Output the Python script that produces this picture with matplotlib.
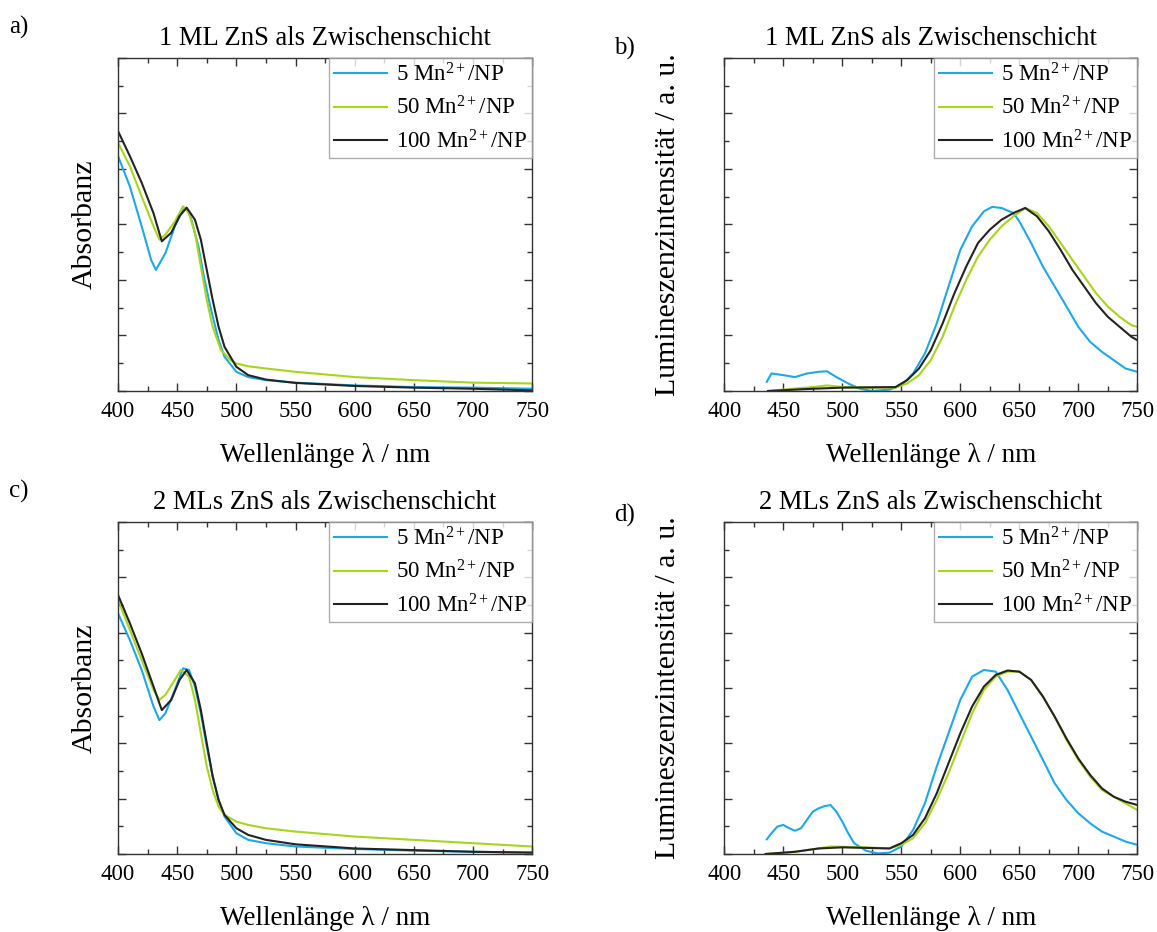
import matplotlib
matplotlib.use("Agg")
import matplotlib.pyplot as plt
from matplotlib.ticker import MultipleLocator, NullFormatter

plt.rcParams['font.family'] = ['Liberation Serif', 'DejaVu Serif']
plt.rcParams['mathtext.fontset'] = 'custom'
plt.rcParams['mathtext.rm'] = 'Liberation Serif'
plt.rcParams['mathtext.it'] = 'Liberation Serif:italic'

# colours / labels
BLUE = '#1ea8e6'
GREEN = '#a8d41e'
BLACK = '#232323'
labels = ['5 Mn$^{2+}$/NP', '50 Mn$^{2+}$/NP', '100 Mn$^{2+}$/NP']

# ---- a) absorbance, 1 ML ----
a_wl_5 = [400, 410, 420, 428, 432, 440, 448, 455, 458, 462, 468, 472, 478, 485, 490, 500, 510, 525, 550, 600, 650, 700, 750]
a_y_5 = [8.46, 7.37, 5.93, 4.72, 4.36, 4.96, 5.93, 6.53, 6.6, 6.17, 5.2, 4.24, 3.04, 1.83, 1.23, 0.69, 0.5, 0.39, 0.3, 0.2, 0.14, 0.12, 0.08]
a_wl_50 = [400, 410, 420, 430, 435, 440, 448, 455, 460, 465, 470, 475, 480, 487, 495, 500, 510, 525, 550, 600, 650, 700, 750]
a_y_50 = [8.94, 8.1, 7.0, 5.93, 5.45, 5.63, 6.1, 6.65, 6.4, 5.7, 4.48, 3.28, 2.31, 1.47, 1.11, 0.99, 0.89, 0.81, 0.69, 0.5, 0.39, 0.3, 0.27]
a_wl_100 = [400, 410, 420, 430, 437, 445, 452, 458, 465, 470, 475, 480, 485, 490, 500, 510, 525, 550, 600, 650, 700, 750]
a_y_100 = [9.36, 8.46, 7.5, 6.4, 5.39, 5.7, 6.3, 6.6, 6.17, 5.45, 4.36, 3.28, 2.31, 1.59, 0.87, 0.57, 0.41, 0.29, 0.18, 0.12, 0.08, 0.02]

# ---- b) luminescence, 1 ML ----
b_wl_5 = [436, 440, 450, 460, 470, 480, 487, 495, 505, 515, 525, 540, 550, 560, 570, 580, 590, 600, 610, 620, 627, 635, 645, 650, 660, 670, 680, 690, 700, 710, 720, 730, 740, 750]
b_y_5 = [0.33, 0.63, 0.57, 0.5, 0.63, 0.69, 0.71, 0.5, 0.27, 0.08, 0.0, 0.05, 0.2, 0.63, 1.35, 2.43, 3.76, 5.08, 5.93, 6.47, 6.63, 6.59, 6.41, 6.11, 5.33, 4.48, 3.76, 3.04, 2.31, 1.77, 1.41, 1.11, 0.81, 0.69]
b_wl_50 = [437, 450, 475, 487, 500, 525, 545, 555, 565, 575, 585, 595, 605, 615, 625, 635, 645, 655, 665, 675, 685, 695, 705, 715, 725, 735, 745, 750]
b_y_50 = [0.0, 0.05, 0.14, 0.2, 0.14, 0.12, 0.12, 0.27, 0.57, 1.11, 1.95, 3.04, 4.0, 4.84, 5.45, 5.93, 6.29, 6.59, 6.41, 5.93, 5.33, 4.72, 4.12, 3.52, 3.04, 2.67, 2.37, 2.31]
b_wl_100 = [437, 475, 500, 545, 555, 565, 575, 585, 595, 605, 615, 625, 635, 645, 655, 665, 675, 685, 695, 705, 715, 725, 735, 745, 750]
b_y_100 = [0.0, 0.08, 0.12, 0.14, 0.39, 0.81, 1.47, 2.43, 3.52, 4.48, 5.33, 5.81, 6.17, 6.41, 6.59, 6.29, 5.75, 5.08, 4.36, 3.76, 3.16, 2.67, 2.31, 1.95, 1.83]

# ---- c) absorbance, 2 MLs ----
c_wl_5 = [400, 410, 420, 430, 435, 440, 448, 455, 460, 465, 470, 475, 480, 485, 490, 500, 510, 525, 550, 600, 650, 700, 750]
c_y_5 = [8.7, 7.73, 6.65, 5.33, 4.84, 5.08, 5.93, 6.71, 6.65, 6.05, 5.08, 3.88, 2.8, 1.95, 1.35, 0.75, 0.51, 0.39, 0.27, 0.18, 0.12, 0.08, 0.05]
c_wl_50 = [400, 410, 420, 430, 435, 440, 448, 453, 460, 465, 470, 475, 480, 485, 490, 500, 510, 525, 550, 600, 650, 700, 750]
c_y_50 = [9.18, 8.1, 7.01, 5.93, 5.57, 5.75, 6.29, 6.65, 6.41, 5.57, 4.36, 3.16, 2.31, 1.71, 1.41, 1.17, 1.05, 0.93, 0.81, 0.63, 0.51, 0.39, 0.27]
c_wl_100 = [400, 410, 420, 430, 437, 445, 452, 458, 465, 470, 475, 480, 485, 490, 500, 510, 525, 550, 600, 650, 700, 750]
c_y_100 = [9.36, 8.34, 7.25, 6.05, 5.2, 5.57, 6.29, 6.65, 6.17, 5.2, 4.0, 2.8, 1.95, 1.41, 0.93, 0.69, 0.51, 0.35, 0.2, 0.14, 0.08, 0.05]

# ---- d) luminescence, 2 MLs ----
d_wl_5 = [436, 440, 445, 450, 455, 460, 465, 470, 475, 480, 485, 490, 495, 500, 505, 510, 520, 530, 540, 550, 560, 570, 580, 590, 600, 610, 620, 630, 640, 650, 660, 670, 680, 690, 700, 710, 720, 730, 740, 750]
d_y_5 = [0.53, 0.75, 0.99, 1.05, 0.93, 0.84, 0.93, 1.23, 1.53, 1.65, 1.73, 1.77, 1.53, 1.17, 0.75, 0.39, 0.12, 0.02, 0.05, 0.27, 0.87, 1.83, 3.16, 4.36, 5.57, 6.41, 6.65, 6.59, 5.93, 5.08, 4.24, 3.4, 2.55, 1.95, 1.47, 1.11, 0.81, 0.63, 0.45, 0.33]
d_wl_50 = [435, 460, 480, 490, 520, 540, 550, 560, 570, 580, 590, 600, 610, 620, 630, 640, 650, 660, 670, 680, 690, 700, 710, 720, 730, 740, 750]
d_y_50 = [0.0, 0.08, 0.2, 0.27, 0.24, 0.2, 0.33, 0.57, 1.11, 1.95, 2.92, 4.0, 5.08, 5.93, 6.41, 6.59, 6.59, 6.29, 5.69, 4.96, 4.12, 3.4, 2.8, 2.31, 2.07, 1.83, 1.59]
d_wl_100 = [435, 460, 480, 500, 540, 550, 560, 570, 580, 590, 600, 610, 620, 630, 640, 650, 660, 670, 680, 690, 700, 710, 720, 730, 740, 750]
d_y_100 = [0.0, 0.08, 0.2, 0.24, 0.2, 0.39, 0.69, 1.29, 2.19, 3.28, 4.36, 5.33, 6.05, 6.47, 6.63, 6.59, 6.29, 5.69, 4.96, 4.17, 3.45, 2.86, 2.37, 2.07, 1.89, 1.77]

titles = ['1 ML ZnS als Zwischenschicht', '1 ML ZnS als Zwischenschicht',
          '2 MLs ZnS als Zwischenschicht', '2 MLs ZnS als Zwischenschicht']
letters = ['a)', 'b)', 'c)', 'd)']
ylabels = ['Absorbanz', 'Lumineszenzintensität / a. u.',
           'Absorbanz', 'Lumineszenzintensität / a. u.']

panels = [
    [(a_wl_5, a_y_5), (a_wl_50, a_y_50), (a_wl_100, a_y_100)],
    [(b_wl_5, b_y_5), (b_wl_50, b_y_50), (b_wl_100, b_y_100)],
    [(c_wl_5, c_y_5), (c_wl_50, c_y_50), (c_wl_100, c_y_100)],
    [(d_wl_5, d_y_5), (d_wl_50, d_y_50), (d_wl_100, d_y_100)],
]

fig = plt.figure(figsize=(11.57, 9.32), dpi=100)
rects = [
    [0.102, 0.5805, 0.358, 0.3575],
    [0.626, 0.5805, 0.357, 0.3575],
    [0.102, 0.0837, 0.358, 0.3563],
    [0.626, 0.0837, 0.357, 0.3563],
]
letter_pos = [(0.008, 0.971), (0.531, 0.948), (0.008, 0.473), (0.531, 0.447)]
ylab_x = [-0.080, -0.136, -0.080, -0.136]
FS = 16.5

for i in range(4):
    ax = fig.add_axes(rects[i])
    for (wl, y), col, lab in zip(panels[i], [BLUE, GREEN, BLACK], labels):
        ax.plot(wl, y, color=col, lw=1.5, label=lab)
    ax.set_xlim(400, 750)
    ax.set_ylim(0, 12)
    ax.xaxis.set_major_locator(MultipleLocator(50))
    ax.xaxis.set_minor_locator(MultipleLocator(25))
    ax.yaxis.set_major_locator(MultipleLocator(2))
    ax.yaxis.set_minor_locator(MultipleLocator(1))
    ax.yaxis.set_major_formatter(NullFormatter())
    ax.tick_params(which='both', direction='in', top=True, right=True,
                   labelsize=FS, width=1.0, color='#333333')
    ax.tick_params(which='major', length=6, pad=7)
    ax.tick_params(which='minor', length=3.5)
    for s in ax.spines.values():
        s.set_linewidth(1.0)
        s.set_color('#333333')
    ax.set_title(titles[i], fontsize=19.2, pad=9)
    ax.set_xlabel('Wellenlänge λ / nm', fontsize=19.5, labelpad=15)
    ax.set_ylabel(ylabels[i], fontsize=21.5)
    ax.yaxis.label.set_va('center')
    ax.yaxis.set_label_coords(ylab_x[i], 0.5)
    leg = ax.legend(loc='upper right', fontsize=FS, frameon=True, fancybox=False,
                    borderaxespad=0.0, handlelength=2.3, handletextpad=0.4,
                    labelspacing=0.45, borderpad=0.22)
    leg.get_frame().set_edgecolor('#999999')
    leg.get_frame().set_linewidth(1.0)
    fig.text(letter_pos[i][0], letter_pos[i][1], letters[i], fontsize=18,
             ha='left', va='center')

fig.savefig('out.png', dpi=100)
